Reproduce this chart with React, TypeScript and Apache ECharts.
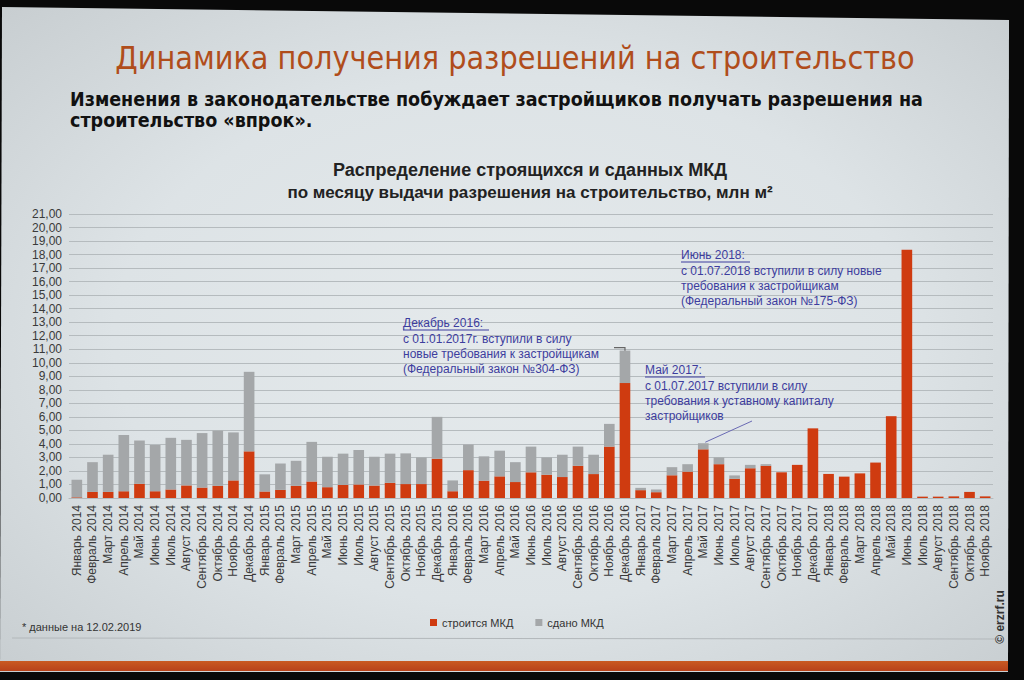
import React, { useEffect, useRef } from "react";
import * as echarts from "echarts";

const categories = [
  "Январь 2014", "Февраль 2014", "Март 2014", "Апрель 2014", "Май 2014", "Июнь 2014",
  "Июль 2014", "Август 2014", "Сентябрь 2014", "Октябрь 2014", "Ноябрь 2014", "Декабрь 2014",
  "Январь 2015", "Февраль 2015", "Март 2015", "Апрель 2015", "Май 2015", "Июнь 2015",
  "Июль 2015", "Август 2015", "Сентябрь 2015", "Октябрь 2015", "Ноябрь 2015", "Декабрь 2015",
  "Январь 2016", "Февраль 2016", "Март 2016", "Апрель 2016", "Май 2016", "Июнь 2016",
  "Июль 2016", "Август 2016", "Сентябрь 2016", "Октябрь 2016", "Ноябрь 2016", "Декабрь 2016",
  "Январь 2017", "Февраль 2017", "Март 2017", "Апрель 2017", "Май 2017", "Июнь 2017",
  "Июль 2017", "Август 2017", "Сентябрь 2017", "Октябрь 2017", "Ноябрь 2017", "Декабрь 2017",
  "Январь 2018", "Февраль 2018", "Март 2018", "Апрель 2018", "Май 2018", "Июнь 2018",
  "Июль 2018", "Август 2018", "Сентябрь 2018", "Октябрь 2018", "Ноябрь 2018",
];

// строится МКД (млн м²)
const underConstruction = [
  0.05, 0.45, 0.45, 0.5, 1.05, 0.5, 0.63, 0.93, 0.77, 0.9, 1.3, 3.45,
  0.48, 0.6, 0.9, 1.22, 0.8, 0.96, 1.0, 0.92, 1.12, 1.03, 1.03, 2.9,
  0.5, 2.06, 1.28, 1.6, 1.18, 1.9, 1.72, 1.55, 2.38, 1.77, 3.8, 8.5,
  0.58, 0.43, 1.68, 1.95, 3.6, 2.5, 1.42, 2.2, 2.38, 1.9, 2.45, 5.15,
  1.78, 1.58, 1.82, 2.62, 6.05, 18.35, 0.1, 0.1, 0.12, 0.45, 0.12,
];

// сдано МКД (млн м²)
const delivered = [
  1.3, 2.2, 2.75, 4.15, 3.2, 3.42, 3.82, 3.37, 4.03, 4.08, 3.55, 5.88,
  1.27, 1.95, 1.85, 2.93, 2.25, 2.32, 2.55, 2.13, 2.16, 2.27, 1.97, 3.1,
  0.8, 1.89, 1.8, 1.9, 1.47, 1.9, 1.28, 1.65, 1.42, 1.43, 1.68, 2.4,
  0.17, 0.2, 0.6, 0.55, 0.45, 0.5, 0.25, 0.25, 0.12, 0, 0, 0,
  0, 0, 0, 0, 0, 0, 0, 0, 0, 0, 0,
];

const seriesNames = ["строится МКД", "сдано МКД"];

const slideTitle = "Динамика получения разрешений на строительство";
const slideSubtitle = [
  "Изменения в законодательстве побуждает застройщиков получать разрешения на",
  "строительство «впрок».",
];
const chartTitle = [
  "Распределение строящихся и сданных МКД",
  "по месяцу выдачи разрешения на строительство, млн м²",
];

const notes = [
  {
    category: "Декабрь 2016",
    heading: "Декабрь 2016:",
    lines: ["с 01.01.2017г. вступили в силу", "новые требования к застройщикам", "(Федеральный закон №304-ФЗ)"],
  },
  {
    category: "Май 2017",
    heading: "Май 2017:",
    lines: ["с 01.07.2017 вступили в силу", "требования к уставному капиталу", "застройщиков"],
  },
  {
    category: "Июнь 2018",
    heading: "Июнь 2018:",
    lines: ["с 01.07.2018 вступили в силу новые", "требования к застройщикам", "(Федеральный закон №175-ФЗ)"],
  },
];

const footnote = "* данные на 12.02.2019";
const copyright = "© erzrf.ru";

const FONT = "'Liberation Sans', Arial, sans-serif";
const NARROW = "'Liberation Sans Narrow', 'DejaVu Sans Condensed', 'Liberation Sans', sans-serif";
const RED = "#cf3b10";
const GRAY = "#a4a7a9";
const BLUE = "#3d3d9e";

export default function App() {
  const ref = useRef<HTMLDivElement>(null);

  useEffect(() => {
    const chart = echarts.init(ref.current!, null, { renderer: "svg" });
    chart.setOption({
      animation: false,
      textStyle: { fontFamily: FONT },
      grid: { left: 69, right: 31, top: 214, bottom: 182 },
      legend: {
        data: seriesNames,
        left: 425,
        top: 612,
        icon: "rect",
        itemWidth: 7,
        itemHeight: 7,
        itemGap: 22,
        textStyle: { fontSize: 11, color: "#333", fontFamily: FONT },
      },
      xAxis: {
        type: "category",
        data: categories,
        axisLine: { show: true, lineStyle: { color: "#b4babd" } },
        axisTick: { show: false },
        axisLabel: { rotate: 90, interval: 0, fontSize: 12, color: "#3a3a3a", margin: 7 },
      },
      yAxis: {
        type: "value",
        min: 0,
        max: 21,
        interval: 1,
        axisLine: { show: false },
        axisTick: { show: false },
        axisLabel: {
          formatter: (v: number) => v.toFixed(2).replace(".", ","),
          fontSize: 12,
          color: "#3a3a3a",
          margin: 7,
        },
        splitLine: { lineStyle: { color: "#b5bbbe", width: 1 } },
      },
      series: [
        {
          name: seriesNames[0],
          type: "bar",
          stack: "total",
          data: underConstruction,
          barWidth: "68%",
          itemStyle: { color: RED },
        },
        {
          name: seriesNames[1],
          type: "bar",
          stack: "total",
          data: delivered,
          barWidth: "68%",
          itemStyle: { color: GRAY },
        },
      ],
    });

    const px = (cat: string, v: number) =>
      chart.convertToPixel({ seriesIndex: 0 }, [categories.indexOf(cat), v]) as number[];
    const total = (cat: string) => {
      const i = categories.indexOf(cat);
      return underConstruction[i] + delivered[i];
    };

    const notePos = [
      { x: 403, y: 323 },
      { x: 645, y: 370 },
      { x: 681, y: 255 },
    ];
    const headingWidths = [86, 60, 69];

    const graphics: any[] = [];
    graphics.push({
      type: "text",
      x: 515,
      y: 58,
      style: { text: slideTitle, fill: "#b04d1b", font: `32px ${NARROW}`, align: "center", verticalAlign: "middle" },
    });
    slideSubtitle.forEach((t, i) =>
      graphics.push({
        type: "text",
        x: 70,
        y: 99 + i * 21,
        style: { text: t, fill: "#111", font: `bold 19.5px ${NARROW}`, align: "left", verticalAlign: "middle" },
      })
    );
    chartTitle.forEach((t, i) =>
      graphics.push({
        type: "text",
        x: 530,
        y: 170 + i * 22,
        style: {
          text: t,
          fill: "#222",
          font: `bold ${i === 0 ? 18 : 17}px ${FONT}`,
          align: "center",
          verticalAlign: "middle",
        },
      })
    );
    notes.forEach((n, k) => {
      const p = notePos[k];
      graphics.push({
        type: "text",
        x: p.x,
        y: p.y,
        style: { text: n.heading, fill: BLUE, font: `12px ${FONT}`, align: "left", verticalAlign: "middle" },
      });
      graphics.push({
        type: "line",
        shape: { x1: p.x, y1: p.y + 7, x2: p.x + headingWidths[k], y2: p.y + 7 },
        style: { stroke: BLUE, lineWidth: 1 },
      });
      n.lines.forEach((t, i) =>
        graphics.push({
          type: "text",
          x: p.x,
          y: p.y + 16 + i * 15,
          style: { text: t, fill: BLUE, font: `12px ${FONT}`, align: "left", verticalAlign: "middle" },
        })
      );
    });
    // leader for Dec 2016
    const d16 = px("Декабрь 2016", total("Декабрь 2016"));
    graphics.push({
      type: "polyline",
      shape: { points: [[614, d16[1] - 3], [d16[0], d16[1] - 3], [d16[0], d16[1] + 5]] },
      style: { stroke: "#666", lineWidth: 1.2, fill: null },
    });
    const m17 = px("Май 2017", total("Май 2017"));
    graphics.push({
      type: "line",
      shape: { x1: 752, y1: 421, x2: m17[0] + 2, y2: m17[1] - 1 },
      style: { stroke: "#6a6ab4", lineWidth: 1 },
    });
    graphics.push({
      type: "text",
      x: 22,
      y: 627,
      style: { text: footnote, fill: "#333", font: `11px ${FONT}`, align: "left", verticalAlign: "middle" },
    });
    graphics.push({
      type: "line",
      shape: { x1: 12, y1: 638, x2: 995, y2: 639 },
      style: { stroke: "#b3b8bb", lineWidth: 1 },
    });
    graphics.push({
      type: "text",
      x: 1000,
      y: 617,
      rotation: Math.PI / 2,
      style: { text: copyright, fill: "#333", font: `bold 12px ${FONT}`, align: "center", verticalAlign: "middle" },
    });

    chart.setOption({ graphic: graphics });
    return () => chart.dispose();
  }, []);

  return (
    <div style={{ position: "fixed", left: 0, top: 0, width: 1024, height: 680, background: "#090909", overflow: "hidden" }}>
      <div
        style={{
          position: "absolute",
          left: 0,
          top: 0,
          width: 1024,
          height: 680,
          clipPath: "polygon(2px 7px, 1009px 20px, 1008px 672px, 0px 672px)",
          background: "radial-gradient(ellipse at 50% 50%, #e5eaec 0%, #dde3e6 55%, #c7cdd0 100%)",
        }}
      />
      <div
        style={{
          position: "absolute",
          left: 0,
          top: 661,
          width: 1008,
          height: 10,
          background: "linear-gradient(#c95a22, #b8421a)",
        }}
      />
      <div ref={ref} style={{ position: "absolute", left: 0, top: 0, width: 1024, height: 680 }} />
    </div>
  );
}
